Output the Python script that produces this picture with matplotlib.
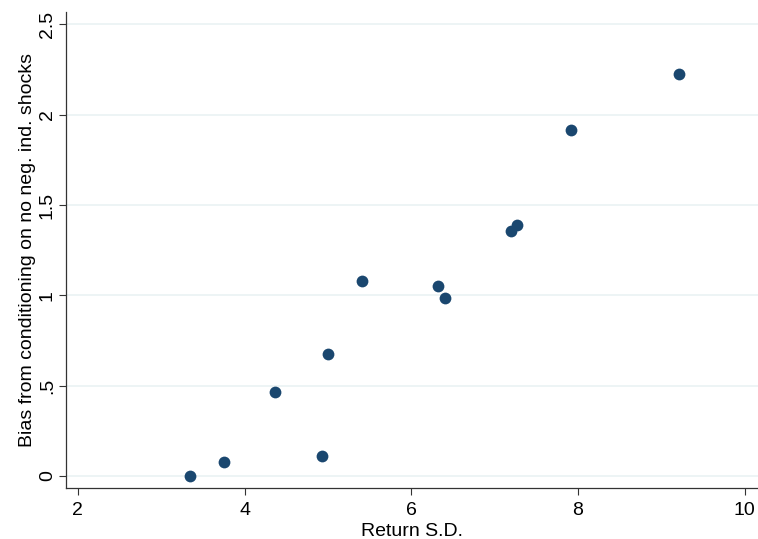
import matplotlib.pyplot as plt

# Return S.D. vs bias
RETURN_SD = [3.34, 3.75, 4.37, 4.93, 5.00, 5.41, 6.32, 6.41, 7.20, 7.27, 7.92, 9.21]
BIAS = [0.00, 0.08, 0.465, 0.11, 0.677, 1.077, 1.05, 0.987, 1.354, 1.389, 1.913, 2.223]

X_TICKS = [2, 4, 6, 8, 10]
Y_TICKS = [0, 0.5, 1, 1.5, 2, 2.5]
Y_TICK_LABELS = ["0", ".5", "1", "1.5", "2", "2.5"]

plt.rcParams['font.family'] = ['Liberation Sans', 'DejaVu Sans']

fig = plt.figure(figsize=(7.58, 5.39), dpi=100)
ax = fig.add_axes([0.0867, 0.094, 0.9133, 0.883])

ax.scatter(RETURN_SD, BIAS, s=72, color="#1a476f", zorder=3, linewidths=0)

ax.set_xlim(1.855, 10.16)
ax.set_ylim(-0.068, 2.566)
ax.set_xticks(X_TICKS)
ax.set_yticks(Y_TICKS)
ax.set_yticklabels(Y_TICK_LABELS, rotation=90, va="center")
ax.tick_params(labelsize=14, length=5, width=0.8, color="#333333")
ax.tick_params(axis="x", pad=5)
ax.tick_params(axis="y", pad=2)
ax.yaxis.grid(True, color="#eaf2f3", linewidth=1.2)
ax.set_axisbelow(True)

for side in ["top", "right"]:
    ax.spines[side].set_visible(False)
for side in ["left", "bottom"]:
    ax.spines[side].set_color("#333333")
    ax.spines[side].set_linewidth(0.9)

ax.set_xlabel("Return S.D.", fontsize=14, labelpad=3)
ax.set_ylabel("Bias from conditioning on no neg. ind. shocks", fontsize=14, labelpad=2)

fig.savefig("out.png", dpi=100)
